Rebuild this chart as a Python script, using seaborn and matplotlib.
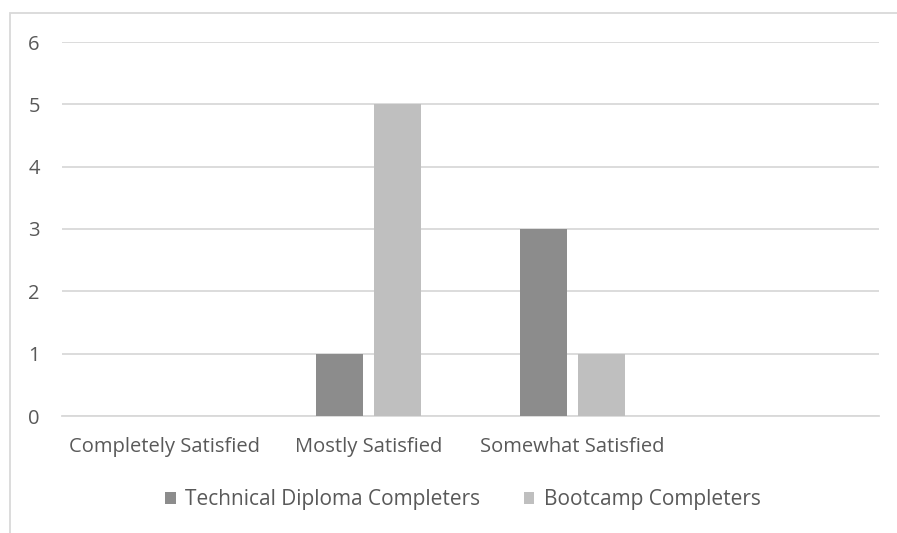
import matplotlib
matplotlib.use("Agg")
import matplotlib.pyplot as plt
from matplotlib.patches import Rectangle, Patch
import pandas as pd
import seaborn as sns

categories = ["Completely Satisfied", "Mostly Satisfied", "Somewhat Satisfied", " "]
technical_diploma = [0, 1, 3, 0]
bootcamp = [0, 5, 1, 0]
series_names = ["Technical Diploma Completers", "Bootcamp Completers"]
y_ticks = [0, 1, 2, 3, 4, 5, 6]

colors = ["#8c8c8c", "#bfbfbf"]
text_color = "#595959"
grid_color = "#d9d9d9"

df = pd.DataFrame({
    "category": categories * 2,
    "value": technical_diploma + bootcamp,
    "series": [series_names[0]] * len(categories) + [series_names[1]] * len(categories),
})

sns.set_theme(style="white")
plt.rcParams["font.family"] = ["Open Sans", "DejaVu Sans"]

fig = plt.figure(figsize=(8.97, 5.33), dpi=100)
ax = fig.add_axes([62 / 897, 1 - 416 / 533, (879 - 62) / 897, (416 - 42) / 533])

sns.barplot(data=df, x="category", y="value", hue="series", order=categories,
            hue_order=series_names, palette=colors, width=0.57, gap=0.2,
            saturation=1, legend=False, linewidth=0, ax=ax, zorder=3)

ax.set_ylim(0, 6)
ax.set_xlim(-0.5, len(categories) - 0.5)
ax.set_yticks(y_ticks)
ax.set_yticklabels([str(t) for t in y_ticks])
ax.yaxis.grid(True, color=grid_color, linewidth=1.3, zorder=0)
ax.set_axisbelow(True)
for side in ["top", "right", "left"]:
    ax.spines[side].set_visible(False)
ax.spines["bottom"].set_color(grid_color)
ax.spines["bottom"].set_linewidth(1.3)
ax.tick_params(axis="both", length=0, labelsize=14.5, labelcolor=text_color)
ax.tick_params(axis="y", pad=16)
ax.tick_params(axis="x", pad=15)
ax.set_xlabel("")
ax.set_ylabel("")

handles = [Patch(facecolor=c, edgecolor="none") for c in colors]
fig.legend(handles, series_names, loc="center", bbox_to_anchor=(463 / 897, 1 - 500 / 533),
           ncol=2, frameon=False, fontsize=15, labelcolor=text_color,
           handlelength=0.5, handleheight=0.5, handletextpad=0.45, columnspacing=2.1)

# chart area border
fig.patches.append(Rectangle((10 / 897, -0.2), 1.2, 1 - 13 / 533 + 0.2,
                             transform=fig.transFigure, fill=False,
                             edgecolor=grid_color, linewidth=1.3))

fig.savefig("out.png", dpi=100, facecolor="white")
